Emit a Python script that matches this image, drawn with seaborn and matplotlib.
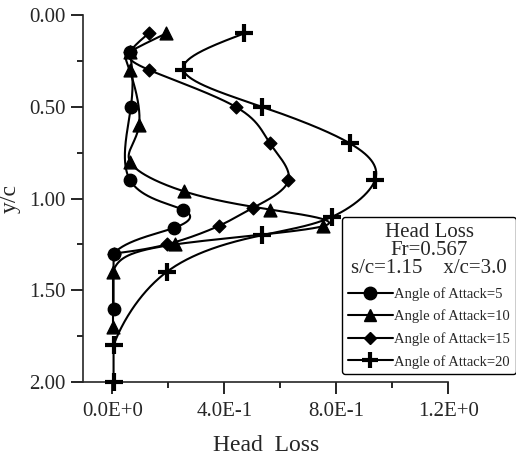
import numpy as np
import pandas as pd
import matplotlib
matplotlib.use("Agg")
import matplotlib.pyplot as plt
from matplotlib.lines import Line2D
from matplotlib.ticker import FixedLocator, MultipleLocator
import seaborn as sns

# Head-loss profiles across the wake (depth y/c), one pair of lists per angle of attack
depth_aoa5 = [0.20, 0.50, 0.90, 1.06, 1.16, 1.30, 1.60]
loss_aoa5 = [0.063, 0.066, 0.063, 0.251, 0.220, 0.004, 0.004]

depth_aoa10 = [0.10, 0.20, 0.30, 0.60, 0.80, 0.96, 1.06, 1.15, 1.25, 1.40, 1.70]
loss_aoa10 = [0.192, 0.063, 0.061, 0.095, 0.063, 0.254, 0.563, 0.754, 0.224, 0.002, 0.002]

depth_aoa15 = [0.10, 0.20, 0.30, 0.50, 0.70, 0.90, 1.05, 1.15, 1.25, 1.30]
loss_aoa15 = [0.129, 0.063, 0.132, 0.440, 0.563, 0.629, 0.503, 0.379, 0.194, 0.004]

depth_aoa20 = [0.10, 0.30, 0.50, 0.70, 0.90, 1.10, 1.20, 1.40, 1.80, 2.00]
loss_aoa20 = [0.471, 0.254, 0.534, 0.849, 0.938, 0.784, 0.534, 0.194, 0.004, 0.004]

series_labels = ["Angle of Attack=5", "Angle of Attack=10",
                 "Angle of Attack=15", "Angle of Attack=20"]
x_tick_values = [0.0, 0.4, 0.8, 1.2]
x_tick_labels = ["0.0E+0", "4.0E-1", "8.0E-1", "1.2E+0"]
y_tick_values = [0.0, 0.5, 1.0, 1.5, 2.0]
legend_title = "Head Loss\nFr=0.567\ns/c=1.15    x/c=3.0"

sns.set_style("ticks")
plt.rcParams["font.family"] = ["Liberation Serif", "DejaVu Serif"]


def natural_spline(tk, vk, tt):
    m = len(tk)
    h = np.diff(tk)
    A = np.zeros((m, m))
    r = np.zeros(m)
    A[0, 0] = A[-1, -1] = 1.0
    for i in range(1, m - 1):
        A[i, i - 1] = h[i - 1]
        A[i, i] = 2 * (h[i - 1] + h[i])
        A[i, i + 1] = h[i]
        r[i] = 6 * ((vk[i + 1] - vk[i]) / h[i] - (vk[i] - vk[i - 1]) / h[i - 1])
    M = np.linalg.solve(A, r)
    idx = np.clip(np.searchsorted(tk, tt, side="right") - 1, 0, m - 2)
    t0, t1 = tk[idx], tk[idx + 1]
    hh = t1 - t0
    return (M[idx] * (t1 - tt) ** 3 / (6 * hh) + M[idx + 1] * (tt - t0) ** 3 / (6 * hh)
            + (vk[idx] / hh - M[idx] * hh / 6) * (t1 - tt)
            + (vk[idx + 1] / hh - M[idx + 1] * hh / 6) * (tt - t0))


def smooth_profile(loss, depth, n=600):
    # parametric cubic spline through the points, one parameter step per point
    loss = np.asarray(loss, float)
    depth = np.asarray(depth, float)
    t = np.arange(len(loss), dtype=float)
    tt = np.linspace(0, t[-1], n)
    sx = natural_spline(t, loss, tt)
    sy = natural_spline(t, depth, tt)
    return np.maximum(sx, loss.min()), sy


fig = plt.figure(figsize=(5.16, 4.58), dpi=100)
ax = fig.add_axes([0.1615, 0.1659, 0.8688 - 0.1615, 0.9672 - 0.1659])

styles = [
    (loss_aoa5, depth_aoa5, "o", 80, 1.0),
    (loss_aoa10, depth_aoa10, "^", 85, 1.0),
    (loss_aoa15, depth_aoa15, "D", 42, 1.0),
    (loss_aoa20, depth_aoa20, "+", 150, 3.0),
]

for loss, depth, mk, size, lw in styles:
    sx, sy = smooth_profile(loss, depth)
    curve = pd.DataFrame({"loss": sx, "depth": sy})
    sns.lineplot(data=curve, x="loss", y="depth", sort=False, estimator=None,
                 color="black", linewidth=1.5, ax=ax)
    pts = pd.DataFrame({"loss": loss, "depth": depth})
    sns.scatterplot(data=pts, x="loss", y="depth", marker=mk, s=size,
                    color="black", edgecolor="black", linewidth=lw,
                    clip_on=False, zorder=5, ax=ax)

ax.set_xlim(-0.104, 1.2)
ax.set_ylim(2.0, 0.0)
sns.despine(ax=ax)
ax.spines["left"].set_linewidth(1.2)
ax.spines["bottom"].set_linewidth(1.2)

ax.xaxis.set_major_locator(FixedLocator(x_tick_values))
ax.set_xticklabels(x_tick_labels)
ax.xaxis.set_minor_locator(MultipleLocator(0.2))
ax.yaxis.set_major_locator(FixedLocator(y_tick_values))
ax.set_yticklabels([f"{v:.2f}" for v in y_tick_values])
ax.yaxis.set_minor_locator(MultipleLocator(0.25))
ax.tick_params(which="major", length=8.5, width=1.2, labelsize=15, pad=4, color="black")
ax.tick_params(which="minor", length=4.5, width=1.2, color="black")
ax.tick_params(axis="x", which="major", pad=6)

ax.set_xlabel("Head  Loss", fontsize=17, labelpad=10)
ax.set_ylabel("y/c", fontsize=17, labelpad=6)

handles = [Line2D([], [], color="black", lw=1.5, marker=m, markersize=ms,
                  mew=(3.0 if m == "+" else 1.0))
           for m, ms in zip(["o", "^", "D", "+"], [9, 9, 6.5, 11])]
leg = ax.legend(handles, series_labels, title=legend_title,
                loc="upper left", bbox_to_anchor=(342 / 516, 1 - 217 / 458),
                bbox_transform=fig.transFigure, frameon=True, fancybox=True,
                fontsize=10.5, title_fontsize=15, handlelength=3.1,
                handletextpad=0.1, labelspacing=0.6, borderpad=0.4,
                borderaxespad=0)
leg.get_frame().set_edgecolor("black")
leg.get_frame().set_linewidth(1.0)
leg.get_frame().set_alpha(1)
leg.get_title().set_linespacing(0.95)
leg.get_title().set_multialignment("center")

fig.savefig("out.png", dpi=100)
